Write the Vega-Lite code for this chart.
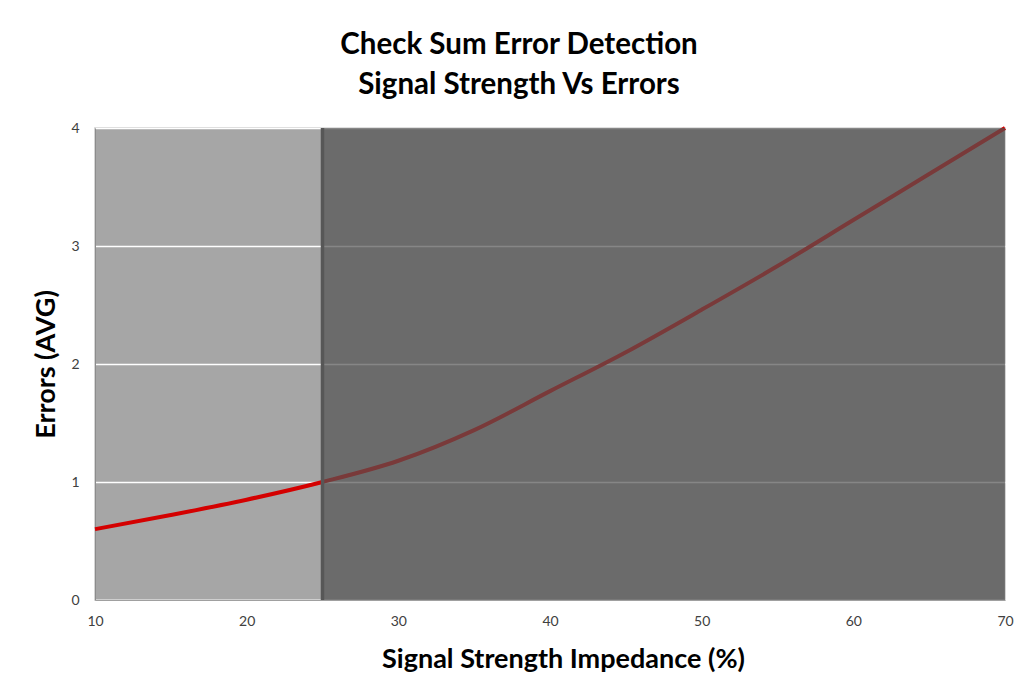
{
  "$schema": "https://vega.github.io/schema/vega-lite/v6.json",
  "width": 910,
  "height": 472,
  "autosize": {"type": "none"},
  "padding": {"left": 95, "top": 128, "right": 18, "bottom": 88},
  "background": "white",
  "title": {
    "text": ["Check Sum Error Detection", "Signal Strength Vs Errors"],
    "fontSize": 29.5,
    "font": "Lato",
    "fontWeight": "bold",
    "color": "#000000",
    "lineHeight": 40,
    "anchor": "middle",
    "dx": -31,
    "offset": 20
  },
  "config": {
    "view": {"fill": "#a6a6a6", "stroke": "#c8c8c8", "strokeWidth": 1.5},
    "axis": {"labelFont": "Lato", "titleFont": "Lato", "labelColor": "#404040", "titleColor": "#000000", "ticks": false, "labelFlush": false}
  },
  "datasets": {
    "curve": [
      {"impedance": 10, "errors": 0.60},
      {"impedance": 15, "errors": 0.72},
      {"impedance": 20, "errors": 0.85},
      {"impedance": 25, "errors": 1.00},
      {"impedance": 30, "errors": 1.18},
      {"impedance": 35, "errors": 1.44},
      {"impedance": 40, "errors": 1.77},
      {"impedance": 45, "errors": 2.10},
      {"impedance": 50, "errors": 2.46},
      {"impedance": 55, "errors": 2.83},
      {"impedance": 60, "errors": 3.22},
      {"impedance": 65, "errors": 3.61},
      {"impedance": 70, "errors": 4.00}
    ],
    "band": [{"start": 25, "end": 70, "low": 0, "high": 4}],
    "divider": [{"at": 25}]
  },
  "layer": [
    {
      "data": {"name": "curve"},
      "mark": {"type": "line", "color": "#d40000", "strokeWidth": 4, "interpolate": "monotone"},
      "encoding": {
        "x": {
          "field": "impedance", "type": "quantitative",
          "scale": {"domain": [10, 70], "nice": false},
          "axis": {
            "values": [10, 20, 30, 40, 50, 60, 70],
            "format": "d",
            "grid": false,
            "domainColor": "#a0a0a0",
            "labelFontSize": 14,
            "labelPadding": 14,
            "title": "Signal Strength Impedance (%)",
            "titleFontSize": 27,
            "titleFontWeight": "bold",
            "titlePadding": 18,
            "titleX": 468
          }
        },
        "y": {
          "field": "errors", "type": "quantitative",
          "scale": {"domain": [0, 4], "nice": false},
          "axis": {
            "values": [0, 1, 2, 3, 4],
            "format": "d",
            "grid": true,
            "gridColor": "#ffffff",
            "gridWidth": 1.5,
            "domainColor": "#8c8c8c",
            "labelFontSize": 14,
            "labelPadding": 16,
            "title": "Errors (AVG)",
            "titleFontSize": 27,
            "titleFontWeight": "bold",
            "titlePadding": 10
          }
        }
      }
    },
    {
      "data": {"name": "band"},
      "mark": {"type": "rect", "color": "#535353", "opacity": 0.7},
      "encoding": {
        "x": {"field": "start", "type": "quantitative"},
        "x2": {"field": "end"},
        "y": {"field": "low", "type": "quantitative"},
        "y2": {"field": "high"}
      }
    },
    {
      "data": {"name": "divider"},
      "mark": {"type": "rule", "color": "#575757", "strokeWidth": 3.5},
      "encoding": {
        "x": {"field": "at", "type": "quantitative"}
      }
    }
  ]
}
